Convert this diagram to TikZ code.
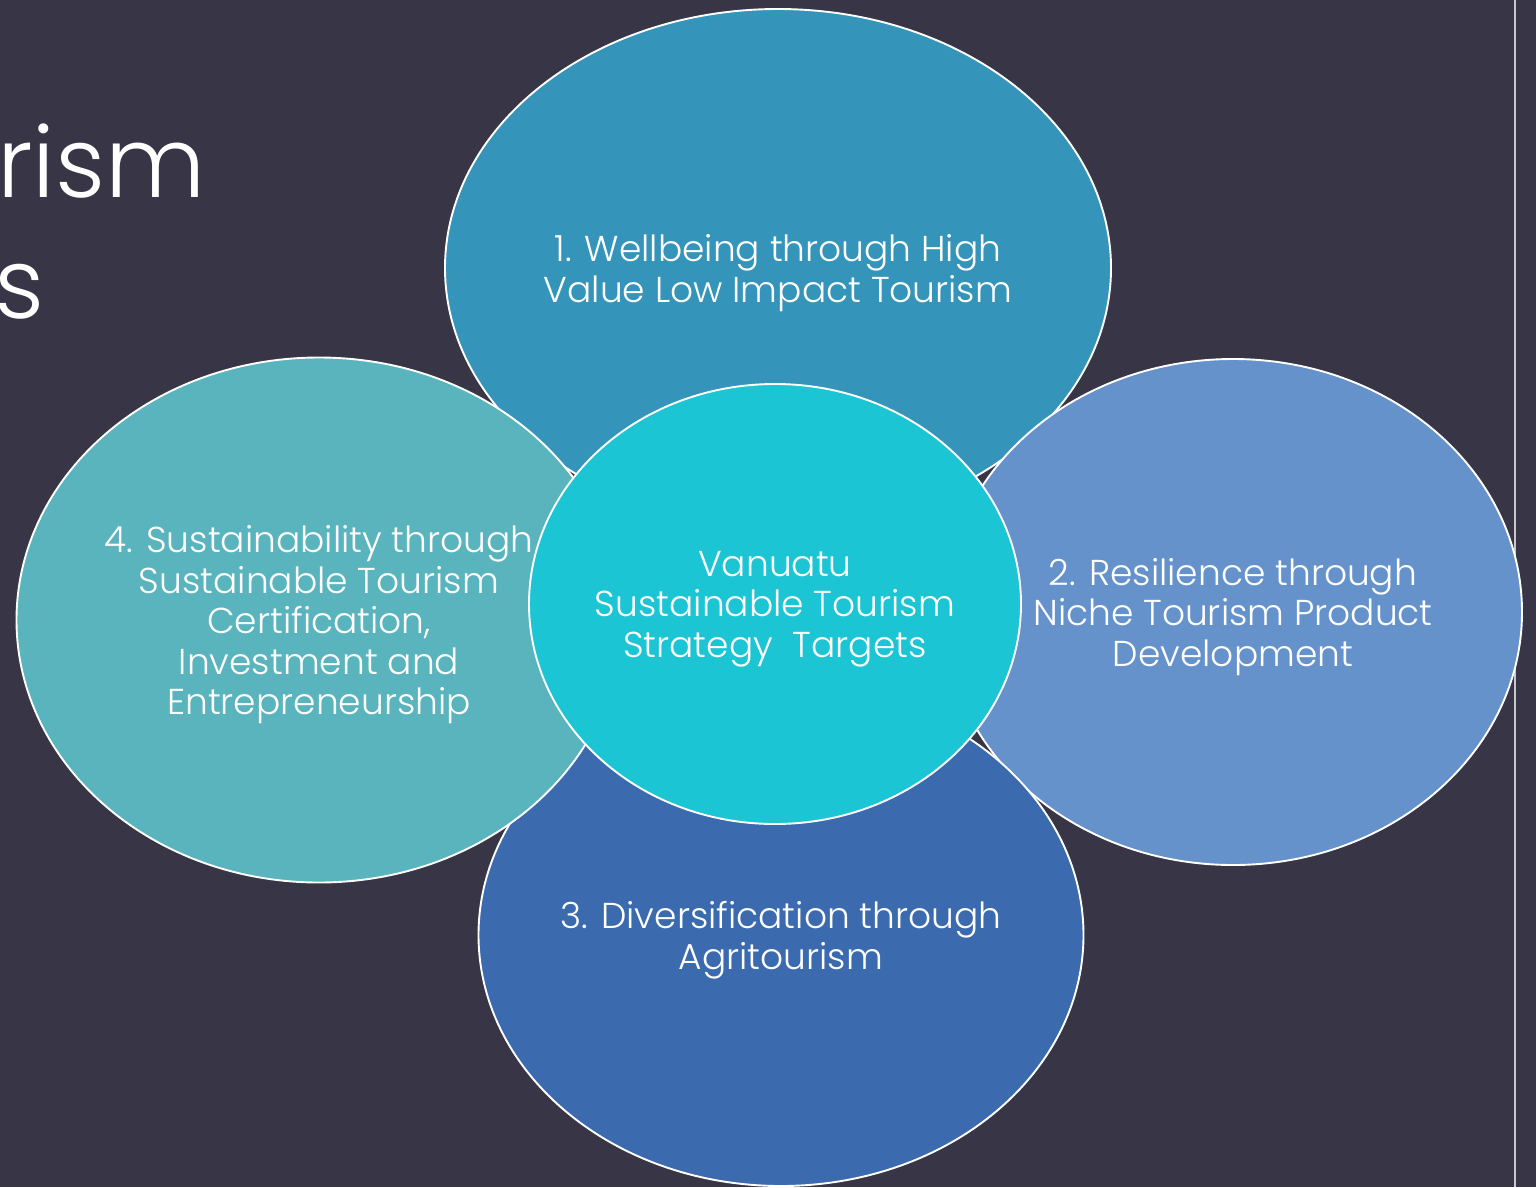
\documentclass[tikz,border=0pt]{standalone}
\usepackage{fontspec}
\setmainfont{Poppins}[UprightFont=* Light]
\usetikzlibrary{shapes.geometric}
\definecolor{bg}{HTML}{383546}
\definecolor{cTop}{HTML}{3594B9}
\definecolor{cRight}{HTML}{6592CB}
\definecolor{cBottom}{HTML}{3B6BAE}
\definecolor{cLeft}{HTML}{59B4BD}
\definecolor{cCenter}{HTML}{1CC5D4}
\definecolor{vline}{HTML}{C8C8CE}
\tikzset{
  petal/.style={ellipse, draw=white, line width=1.9pt, inner sep=0pt},
  petaltext/.style={text=white, inner sep=0pt, align=center, yshift=-5pt,
    font=\fontsize{36}{40.5}\selectfont},
  title/.style={text=white, inner sep=0pt, font=\fontsize{98}{120}\selectfont}
}
\begin{document}
\begin{tikzpicture}[x=1pt,y=-1pt]
\fill[bg] (0,0) rectangle (1536,1187);
\useasboundingbox (0,0) rectangle (1536,1187);
\node[title, anchor=base west] (t1) at (-3,197) {rism};
\node[title, anchor=base east] (t2) at (45,318) {s};
\draw[vline, line width=2pt] (1515,0) coordinate (va) -- (1515,1187) coordinate (vb);
\node[petal, fill=cTop, minimum width=666pt, minimum height=518pt,
  label={[petaltext]center:{1. Wellbeing through High\\Value Low Impact Tourism}}] (n1) at (778,268) {};
\node[petal, fill=cRight, minimum width=578pt, minimum height=506pt,
  label={[petaltext]center:{2. Resilience through\\Niche Tourism Product\\Development}}] (n2) at (1233,612) {};
\node[petal, fill=cBottom, minimum width=605pt, minimum height=502pt,
  label={[petaltext]center:{3. Diversification through\\Agritourism}}] (n3) at (781,935) {};
\node[petal, fill=cLeft, minimum width=605pt, minimum height=525pt,
  label={[petaltext]center:{4. Sustainability through\\Sustainable Tourism\\Certification,\\Investment and\\Entrepreneurship}}] (n4) at (319,620) {};
\node[petal, fill=cCenter, minimum width=492pt, minimum height=440pt,
  label={[petaltext]center:{Vanuatu\\Sustainable Tourism\\Strategy\ \ Targets}}] (ctr) at (775,604) {};
\end{tikzpicture}
\end{document}
